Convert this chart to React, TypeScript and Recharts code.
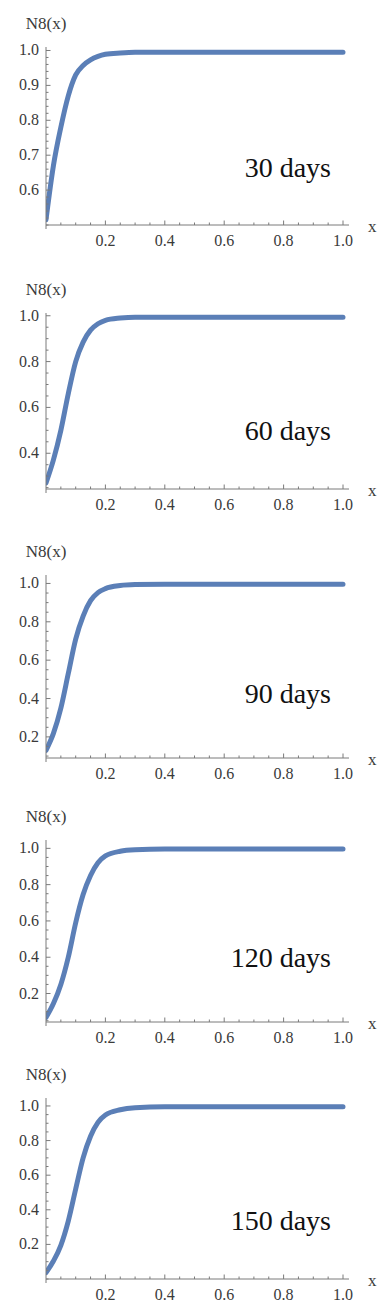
import React from 'react';
import { LineChart, Line, XAxis, YAxis, Label } from 'recharts';

// ---- data ----
const xValues = [0, 0.025, 0.05, 0.075, 0.1, 0.125, 0.15, 0.175, 0.2, 0.25, 0.3, 0.4, 0.6, 0.8, 1.0];
const n8Day30 = [0.515, 0.67, 0.78, 0.87, 0.93, 0.957, 0.973, 0.983, 0.989, 0.993, 0.995, 0.995, 0.995, 0.995, 0.995];
const n8Day60 = [0.27, 0.371, 0.5, 0.66, 0.8, 0.885, 0.937, 0.965, 0.98, 0.99, 0.994, 0.994, 0.994, 0.994, 0.994];
const n8Day90 = [0.13, 0.218, 0.35, 0.53, 0.71, 0.83, 0.91, 0.952, 0.973, 0.989, 0.994, 0.996, 0.996, 0.996, 0.996];
const n8Day120 = [0.068, 0.145, 0.25, 0.4, 0.59, 0.745, 0.85, 0.92, 0.958, 0.984, 0.992, 0.996, 0.996, 0.996, 0.996];
const n8Day150 = [0.037, 0.104, 0.195, 0.335, 0.52, 0.7, 0.825, 0.905, 0.948, 0.978, 0.99, 0.996, 0.996, 0.996, 0.996];

const dayLabels = ['30 days', '60 days', '90 days', '120 days', '150 days'];

const xMajorTicks = [0.2, 0.4, 0.6, 0.8, 1.0];
const xMinorStep = 0.05;

const yMajor30 = [0.6, 0.7, 0.8, 0.9, 1.0];
const yMajorOther = [0.4, 0.6, 0.8, 1.0];
const yMajorLow = [0.2, 0.4, 0.6, 0.8, 1.0];

// ---- layout / style ----
const LINE_COLOR = '#5b7fb7';
const AXIS_COLOR = '#7a7a7a';
const TEXT_COLOR = '#3a3a3a';
const FONT = '"Liberation Serif", "DejaVu Serif", serif';
const CHART_W = 382;
const TOP_PAD = 40;
const XAXIS_H = 35;
const YAXIS_W = 46;
const PLOT_W = 303;
const X_MAX = 303 / 297;

type PanelCfg = {
  values: number[];
  label: string;
  plotTop: number;
  plotBottom: number;
  yMin: number;
  yMax: number;
  yMajor: number[];
  yMinorStep: number;
  daysOffset: number;
};

const panels: PanelCfg[] = [
  { values: n8Day30, label: dayLabels[0], plotTop: 47, plotBottom: 225, yMin: 0.5, yMax: 1.01, yMajor: yMajor30, yMinorStep: 0.02, daysOffset: 48 },
  { values: n8Day60, label: dayLabels[1], plotTop: 313, plotBottom: 489, yMin: 0.244, yMax: 1.012, yMajor: yMajorOther, yMinorStep: 0.05, daysOffset: 49 },
  { values: n8Day90, label: dayLabels[2], plotTop: 575, plotBottom: 758, yMin: 0.09, yMax: 1.044, yMajor: yMajorLow, yMinorStep: 0.05, daysOffset: 55 },
  { values: n8Day120, label: dayLabels[3], plotTop: 840, plotBottom: 1022, yMin: 0.043, yMax: 1.046, yMajor: yMajorLow, yMinorStep: 0.05, daysOffset: 55 },
  { values: n8Day150, label: dayLabels[4], plotTop: 1098, plotBottom: 1279, yMin: 0.0, yMax: 1.046, yMajor: yMajorLow, yMinorStep: 0.05, daysOffset: 49 },
];

const r3 = (v: number) => Math.round(v * 1000) / 1000;

function stepTicks(min: number, max: number, step: number): number[] {
  const out: number[] = [];
  const start = Math.ceil(r3(min / step) - 1e-9) * step;
  for (let v = start; v <= max + 1e-9; v += step) out.push(r3(v));
  return out;
}

const xTicks = stepTicks(0, 1.0, xMinorStep);

const makeXTick = () => (props: any) => {
  const { x, y, payload } = props;
  const v = r3(payload.value);
  const major = xMajorTicks.some((m) => Math.abs(m - v) < 1e-6);
  return (
    <g>
      {v === 0 ? (
        <line x1={x} x2={x} y1={y} y2={y + 4} stroke={AXIS_COLOR} strokeWidth={1} />
      ) : (
        <line x1={x} x2={x} y1={y} y2={y - (major ? 4.5 : 2.5)} stroke={AXIS_COLOR} strokeWidth={1} />
      )}
      {major && (
        <text x={x} y={y + 21} textAnchor="middle" fontFamily={FONT} fontSize={16} fill={TEXT_COLOR}>
          {v.toFixed(1)}
        </text>
      )}
    </g>
  );
};

const makeYTick = (majors: number[]) => (props: any) => {
  const { x, y, payload } = props;
  const v = r3(payload.value);
  const major = majors.some((m) => Math.abs(m - v) < 1e-6);
  return (
    <g>
      <line x1={x} x2={x + (major ? 4.5 : 2.5)} y1={y} y2={y} stroke={AXIS_COLOR} strokeWidth={1} />
      {major && (
        <text x={x - 7} y={y + 5} textAnchor="end" fontFamily={FONT} fontSize={16} fill={TEXT_COLOR}>
          {v.toFixed(1)}
        </text>
      )}
    </g>
  );
};

function Panel({ cfg }: { cfg: PanelCfg }) {
  const data = xValues.map((x, i) => ({ x, n8: cfg.values[i] }));
  const plotH = cfg.plotBottom - cfg.plotTop;
  const height = plotH + TOP_PAD + XAXIS_H;
  const yTicks = stepTicks(cfg.yMin, 1.0, cfg.yMinorStep);
  return (
    <div style={{ position: 'absolute', left: 0, top: cfg.plotTop - TOP_PAD }}>
      <LineChart
        width={CHART_W}
        height={height}
        data={data}
        margin={{ top: TOP_PAD, right: CHART_W - YAXIS_W - PLOT_W, bottom: 0, left: 0 }}
      >
        <XAxis
          type="number"
          dataKey="x"
          domain={[0, X_MAX]}
          ticks={xTicks}
          interval={0}
          allowDataOverflow
          height={XAXIS_H}
          tickSize={0}
          tickMargin={0}
          tickLine={false}
          axisLine={{ stroke: AXIS_COLOR, strokeWidth: 1 }}
          tick={makeXTick()}
        >
          <Label
            content={(p: any) => {
              const vb = p.viewBox || { x: YAXIS_W, y: plotH + TOP_PAD, width: PLOT_W };
              return (
                <g>
                  <text x={vb.x + vb.width + 19} y={vb.y + 7} fontFamily={FONT} fontSize={17} fill={TEXT_COLOR}>
                    x
                  </text>
                  <text x={vb.x + 285} y={vb.y - cfg.daysOffset} textAnchor="end" fontFamily={FONT} fontSize={28} fill="#111">
                    {cfg.label}
                  </text>
                </g>
              );
            }}
          />
        </XAxis>
        <YAxis
          type="number"
          domain={[cfg.yMin, cfg.yMax]}
          ticks={yTicks}
          interval={0}
          allowDataOverflow
          width={YAXIS_W}
          tickSize={0}
          tickMargin={0}
          tickLine={false}
          axisLine={{ stroke: AXIS_COLOR, strokeWidth: 1 }}
          tick={makeYTick(cfg.yMajor)}
        >
          <Label
            content={(p: any) => {
              const vb = p.viewBox || { x: 0, y: TOP_PAD, width: YAXIS_W };
              return (
                <text x={vb.x + vb.width} y={vb.y - 18} textAnchor="middle" fontFamily={FONT} fontSize={17} fill={TEXT_COLOR}>
                  N8(x)
                </text>
              );
            }}
          />
        </YAxis>
        <Line
          type="monotone"
          dataKey="n8"
          stroke={LINE_COLOR}
          strokeWidth={5}
          dot={false}
          isAnimationActive={false}
          strokeLinecap="round"
        />
      </LineChart>
    </div>
  );
}

export default function App() {
  return (
    <div style={{ position: 'absolute', left: 0, top: 0, width: CHART_W, height: 1316, background: '#fff' }}>
      {panels.map((cfg, i) => (
        <Panel key={i} cfg={cfg} />
      ))}
    </div>
  );
}
